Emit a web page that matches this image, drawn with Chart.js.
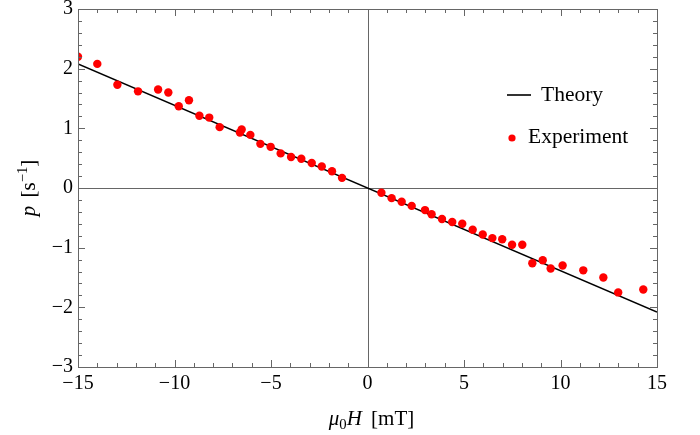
<!DOCTYPE html>
<html>
<head>
<meta charset="utf-8">
<script src="https://cdn.jsdelivr.net/npm/chart.js@4"></script>
<style>
    html, body { margin: 0; padding: 0; background: #fff; }
    #wrap { width: 700px; height: 435px; }
</style>
</head>
<body>
<div id="wrap"><canvas id="myChart" width="700" height="435"></canvas></div>
<script>
// measured points (field in mT, rate in 1/s)
const expField = [-15.0, -14.0, -12.96, -11.89, -10.85, -10.32, -9.78, -9.25, -8.71, -8.2, -7.66, -6.61, -6.52, -6.07, -5.55, -5.02, -4.5, -3.96, -3.43, -2.89, -2.37, -1.84, -1.32,
    0.72, 1.25, 1.77, 2.29, 2.98, 3.32, 3.86, 4.39, 4.91, 5.45, 5.97, 6.47, 6.98, 7.49, 8.02, 8.54, 9.08, 9.49, 10.11, 11.18, 12.22, 12.99, 14.29];
const expRate = [2.2, 2.08, 1.73, 1.62, 1.65, 1.6, 1.37, 1.47, 1.21, 1.18, 1.02, 0.93, 0.98, 0.89, 0.74, 0.69, 0.58, 0.52, 0.49, 0.42, 0.36, 0.28, 0.17,
    -0.08, -0.17, -0.23, -0.3, -0.37, -0.44, -0.52, -0.57, -0.6, -0.7, -0.78, -0.84, -0.86, -0.95, -0.95, -1.26, -1.21, -1.35, -1.3, -1.38, -1.5, -1.75, -1.7];

// theory line end points
const theoryField = [-15, 15];
const theoryRate = [2.08, -2.08];

const xTicks = [-15, -10, -5, 0, 5, 10, 15];
const yTicks = [-3, -2, -1, 0, 1, 2, 3];

const SERIF = '"Liberation Serif", "DejaVu Serif", serif';
const FRAME = '#666';

function minus(v) {
    return String(v).replace('-', '\u2212');
}

// frame with inward ticks on all four sides, plus the zero axes
const frameTicks = {
    id: 'frameTicks',
    beforeDatasetsDraw(chart) {
        const { ctx, chartArea: a, scales: { x, y } } = chart;
        ctx.save();
        ctx.strokeStyle = FRAME;
        ctx.lineWidth = 1;
        ctx.beginPath();
        const x0 = Math.round(x.getPixelForValue(0)) + 0.5;
        const y0 = Math.round(y.getPixelForValue(0)) + 0.5;
        ctx.moveTo(x0, a.top); ctx.lineTo(x0, a.bottom);
        ctx.moveTo(a.left, y0); ctx.lineTo(a.right, y0);
        ctx.stroke();
        ctx.restore();
    },
    afterDatasetsDraw(chart) {
        const { ctx, chartArea: a, scales: { x, y } } = chart;
        ctx.save();
        ctx.strokeStyle = FRAME;
        ctx.lineWidth = 1;
        ctx.beginPath();
        for (let v = -15; v <= 15; v++) {
            const px = Math.round(x.getPixelForValue(v)) + 0.5;
            const len = v % 5 === 0 ? 7 : 4;
            ctx.moveTo(px, a.bottom); ctx.lineTo(px, a.bottom - len);
            ctx.moveTo(px, a.top); ctx.lineTo(px, a.top + len);
        }
        for (let i = -15; i <= 15; i++) {
            const py = Math.round(y.getPixelForValue(i / 5)) + 0.5;
            const len = i % 5 === 0 ? 7 : 4;
            ctx.moveTo(a.left, py); ctx.lineTo(a.left + len, py);
            ctx.moveTo(a.right, py); ctx.lineTo(a.right - len, py);
        }
        ctx.stroke();
        ctx.strokeRect(Math.round(a.left) + 0.5, Math.round(a.top) + 0.5,
            Math.round(a.right - a.left), Math.round(a.bottom - a.top));
        ctx.restore();
    }
};

// draw a title made of pieces with their own style
function drawPieces(ctx, pieces, size) {
    let total = 0;
    pieces.forEach(p => {
        ctx.font = `${p.italic ? 'italic ' : ''}${p.small ? size * 0.7 : size}px ${SERIF}`;
        p.w = ctx.measureText(p.t).width + (p.gap || 0);
        total += p.w;
    });
    let cx = -total / 2;
    pieces.forEach(p => {
        ctx.font = `${p.italic ? 'italic ' : ''}${p.small ? size * 0.7 : size}px ${SERIF}`;
        ctx.fillText(p.t, cx, p.shift || 0);
        cx += p.w;
    });
}

const axisTitles = {
    id: 'axisTitles',
    afterDraw(chart) {
        const { ctx, chartArea: a } = chart;
        ctx.save();
        ctx.fillStyle = '#000';
        ctx.textBaseline = 'alphabetic';
        ctx.textAlign = 'left';

        ctx.translate((a.left + a.right) / 2 + 4, 425);
        drawPieces(ctx, [
            { t: '\u03bc', italic: true },
            { t: '0', small: true, shift: 4 },
            { t: 'H', italic: true, gap: 4 },
            { t: ' [mT]' }
        ], 21);
        ctx.restore();

        ctx.save();
        ctx.fillStyle = '#000';
        ctx.textAlign = 'left';
        ctx.translate(35, (a.top + a.bottom) / 2);
        ctx.rotate(-Math.PI / 2);
        drawPieces(ctx, [
            { t: 'p', italic: true, gap: 3 },
            { t: ' [s' },
            { t: '\u2212' + '1', small: true, shift: -8 },
            { t: ']' }
        ], 21);
        ctx.restore();

        // legend inside the plot
        const ds = chart.data.datasets;
        ctx.save();
        ctx.font = `21.5px ${SERIF}`;
        ctx.fillStyle = '#000';
        ctx.textBaseline = 'middle';
        ctx.strokeStyle = ds[0].borderColor;
        ctx.lineWidth = 1.6;
        ctx.beginPath();
        ctx.moveTo(507, 95); ctx.lineTo(531, 95);
        ctx.stroke();
        ctx.fillText(ds[0].label, 541, 95);
        ctx.fillStyle = ds[1].backgroundColor;
        ctx.beginPath();
        ctx.arc(512, 138, 3.6, 0, Math.PI * 2);
        ctx.fill();
        ctx.fillStyle = '#000';
        ctx.fillText(ds[1].label, 528, 137);
        ctx.restore();
    }
};

new Chart(document.getElementById('myChart'), {
    type: 'scatter',
    data: {
        datasets: [
            {
                type: 'line',
                label: 'Theory',
                data: theoryField.map((f, i) => ({ x: f, y: theoryRate[i] })),
                borderColor: '#000',
                borderWidth: 1.6,
                pointRadius: 0,
                fill: false,
                order: 2
            },
            {
                label: 'Experiment',
                data: expField.map((f, i) => ({ x: f, y: expRate[i] })),
                backgroundColor: '#ff0000',
                borderWidth: 0,
                pointRadius: 4.2,
                order: 1
            }
        ]
    },
    options: {
        responsive: false,
        animation: false,
        layout: { padding: { top: 9, right: 43, left: 0, bottom: 0 } },
        plugins: {
            legend: { display: false },
            tooltip: { enabled: false }
        },
        scales: {
            x: {
                type: 'linear',
                min: -15,
                max: 15,
                afterBuildTicks: s => { s.ticks = xTicks.map(v => ({ value: v })); },
                afterFit: s => { s.height = 68; s.paddingLeft = 0; s.paddingRight = 0; },
                ticks: {
                    autoSkip: false,
                    maxRotation: 0,
                    padding: 5,
                    color: '#000',
                    font: { family: SERIF, size: 20 },
                    callback: v => minus(v)
                },
                grid: { display: false, drawTicks: false },
                border: { display: false }
            },
            y: {
                type: 'linear',
                min: -3,
                max: 3,
                afterBuildTicks: s => { s.ticks = yTicks.map(v => ({ value: v })); },
                afterFit: s => { s.width = 78; s.paddingTop = 0; s.paddingBottom = 0; },
                ticks: {
                    autoSkip: false,
                    padding: 5,
                    color: '#000',
                    font: { family: SERIF, size: 20 },
                    callback: v => minus(v)
                },
                grid: { display: false, drawTicks: false },
                border: { display: false }
            }
        }
    },
    plugins: [frameTicks, axisTitles]
});
</script>
</body>
</html>
